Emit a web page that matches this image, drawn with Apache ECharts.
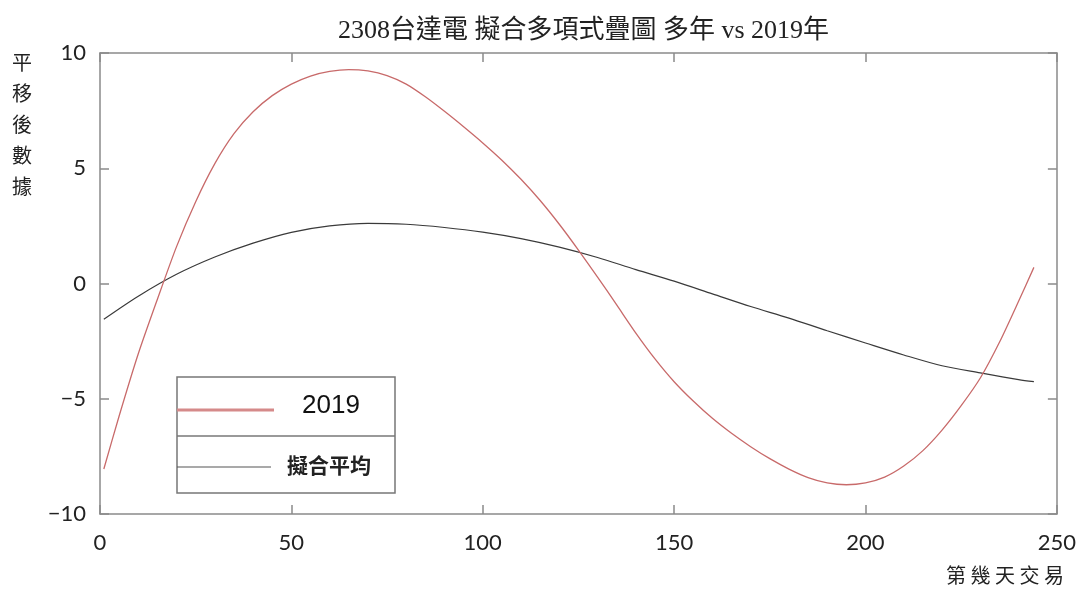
<!DOCTYPE html>
<html>
<head>
<meta charset="utf-8">
<script src="https://cdn.jsdelivr.net/npm/echarts@6/dist/echarts.min.js"></script>
<style>
  html, body { margin: 0; padding: 0; background: #fff; }
  #chart { width: 1079px; height: 589px; }
</style>
</head>
<body>
<div id="chart"></div>
<script>
// 2019 fitted curve (day, value)
const days2019 = [1, 5, 10, 15, 20, 25, 30, 35, 40, 45, 50, 55, 60, 65, 70, 75, 80, 85, 90, 95, 100, 105, 110, 115, 120, 125, 130, 135, 140, 145, 150, 155, 160, 165, 170, 175, 180, 185, 190, 195, 200, 205, 210, 215, 220, 225, 230, 235, 240, 244];
const values2019 = [-8.05, -5.75, -3.05, -0.68, 1.6, 3.55, 5.2, 6.5, 7.45, 8.15, 8.65, 9.0, 9.2, 9.28, 9.22, 9.02, 8.65, 8.1, 7.47, 6.8, 6.1, 5.35, 4.52, 3.6, 2.57, 1.45, 0.28, -0.93, -2.15, -3.27, -4.26, -5.1, -5.85, -6.5, -7.08, -7.6, -8.05, -8.42, -8.65, -8.73, -8.65, -8.4, -7.92, -7.25, -6.36, -5.3, -4.1, -2.55, -0.77, 0.7];
// multi-year average fit
const daysAvg = [1, 10, 20, 30, 40, 50, 60, 70, 80, 90, 100, 110, 120, 130, 140, 150, 160, 170, 180, 190, 200, 210, 220, 230, 240, 244];
const valuesAvg = [-1.55, -0.55, 0.4, 1.15, 1.75, 2.22, 2.5, 2.61, 2.57, 2.43, 2.23, 1.95, 1.58, 1.13, 0.6, 0.1, -0.45, -1.0, -1.5, -2.05, -2.58, -3.1, -3.57, -3.88, -4.17, -4.26];

const xTicks = [0, 50, 100, 150, 200, 250];
const yTicks = [-10, -5, 0, 5, 10];

const titleText = '2308台達電 擬合多項式疊圖 多年 vs 2019年';
const legendNames = ['2019', '擬合平均'];

const pairs = (xs, ys) => xs.map((x, i) => [x, ys[i]]);

const serif = '"Liberation Serif", "DejaVu Serif", "Noto Sans CJK TC", serif';
const cjk = '"Noto Sans CJK TC", "Noto Sans CJK SC", sans-serif';
const numFont = 'Lato, "Noto Sans", sans-serif';
const axisGrey = '#8a8a8a';
const redColor = '#c86a6a';
const blackColor = '#3a3a3a';

const myChart = echarts.init(document.getElementById('chart'), null, { renderer: 'canvas' });

const frameAxis = (pos) => ({
  type: 'value',
  position: pos,
  min: pos === 'top' ? xTicks[0] : yTicks[0],
  max: pos === 'top' ? xTicks[xTicks.length - 1] : yTicks[yTicks.length - 1],
  interval: pos === 'top' ? 50 : 5,
  axisLine: { show: true, onZero: false, lineStyle: { color: axisGrey, width: 1.5 } },
  axisTick: { show: true, inside: true, length: 9, lineStyle: { color: axisGrey, width: 1.5 } },
  axisLabel: { show: false },
  splitLine: { show: false }
});

const option = {
  backgroundColor: '#fff',
  animation: false,
  title: {
    text: titleText,
    left: 333,
    top: 13,
    textStyle: { fontFamily: serif, fontSize: 26, fontWeight: 'normal', color: '#222' }
  },
  grid: { left: 100, right: 21, top: 53, bottom: 75, containLabel: false },
  xAxis: [
    {
      type: 'value',
      min: xTicks[0],
      max: xTicks[xTicks.length - 1],
      interval: 50,
      axisLine: { show: true, onZero: false, lineStyle: { color: axisGrey, width: 1.5 } },
      axisTick: { show: true, inside: true, length: 9, lineStyle: { color: axisGrey, width: 1.5 } },
      axisLabel: { fontFamily: numFont, fontSize: 22, color: '#222', margin: 18 },
      splitLine: { show: false }
    },
    frameAxis('top')
  ],
  yAxis: [
    {
      type: 'value',
      min: yTicks[0],
      max: yTicks[yTicks.length - 1],
      interval: 5,
      axisLine: { show: true, onZero: false, lineStyle: { color: axisGrey, width: 1.5 } },
      axisTick: { show: true, inside: true, length: 9, lineStyle: { color: axisGrey, width: 1.5 } },
      axisLabel: {
        fontFamily: numFont, fontSize: 22, color: '#222', margin: 14,
        formatter: v => (v < 0 ? '\u2212' + Math.abs(v) : String(v))
      },
      splitLine: { show: false }
    },
    frameAxis('right')
  ],
  series: [
    {
      name: legendNames[0],
      type: 'line',
      data: pairs(days2019, values2019),
      smooth: 0.25,
      showSymbol: false,
      lineStyle: { color: redColor, width: 1.3 },
      z: 3
    },
    {
      name: legendNames[1],
      type: 'line',
      data: pairs(daysAvg, valuesAvg),
      smooth: 0.3,
      showSymbol: false,
      lineStyle: { color: blackColor, width: 1.2 },
      z: 2
    }
  ],
  graphic: [
    // y axis name, vertical
    {
      type: 'text', left: 12, top: 47,
      style: { text: '平\n移\n後\n數\n據', fontFamily: cjk, fontSize: 20, lineHeight: 31, fill: '#222' }
    },
    // x axis name
    {
      type: 'text', left: 946, top: 565,
      style: { text: '第 幾 天 交 易', fontFamily: cjk, fontSize: 20, fill: '#222' }
    },
    // legend box
    {
      type: 'rect', shape: { x: 177, y: 377, width: 218, height: 116 },
      style: { fill: '#fff', stroke: '#777', lineWidth: 1.5 }, z: 10
    },
    {
      type: 'line', shape: { x1: 177, y1: 436, x2: 395, y2: 436 },
      style: { stroke: '#777', lineWidth: 1.5 }, z: 11
    },
    {
      type: 'line', shape: { x1: 177, y1: 410, x2: 274, y2: 410 },
      style: { stroke: '#d58a8a', lineWidth: 3 }, z: 11
    },
    {
      type: 'text', left: 302, top: 393,
      style: { text: legendNames[0], fontFamily: '"Liberation Sans", Arial, sans-serif', fontSize: 26, fill: '#111' }, z: 11
    },
    {
      type: 'line', shape: { x1: 177, y1: 467, x2: 271, y2: 467 },
      style: { stroke: '#555', lineWidth: 1.2 }, z: 11
    },
    {
      type: 'text', left: 287, top: 455,
      style: { text: legendNames[1], fontFamily: cjk, fontSize: 21, fontWeight: 'bold', fill: '#222' }, z: 11
    }
  ]
};

myChart.setOption(option);
</script>
</body>
</html>
